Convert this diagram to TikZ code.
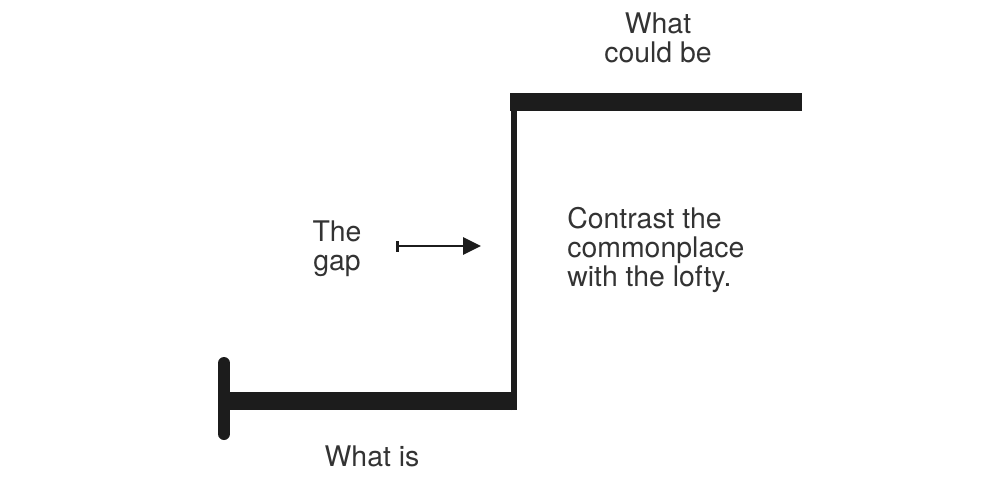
\documentclass[tikz,border=0pt]{standalone}
\usepackage{fontspec}
\setmainfont{TeX Gyre Heros}
\usepackage{tikz}
\usetikzlibrary{arrows.meta}

\definecolor{ink}{HTML}{1C1C1C}
\definecolor{txt}{HTML}{333333}

\tikzset{
  bar/.style={ink, line width=9pt},
  riser/.style={ink, line width=2.6pt},
  label/.style={txt, inner sep=0pt, font=\fontsize{14.2}{14.6}\selectfont},
}

\begin{document}
\begin{tikzpicture}[x=0.5pt,y=-0.5pt]
\useasboundingbox (0,0) rectangle (983,492);
\coordinate (isL) at (222,401);
\coordinate (isR) at (516,401);
\coordinate (riseB) at (514,410);
\coordinate (riseT) at (514,93);
\coordinate (beL) at (510,102);
\coordinate (beR) at (802,102);
\coordinate (capT) at (224,363);
\coordinate (capB) at (224,434);
\coordinate (gapL) at (396,246);
\coordinate (gapR) at (481,246);
\draw[bar] (isL) -- (isR);
\draw[bar] (beL) -- (beR);
\draw[riser] (riseB) -- (riseT);
\draw[ink, line width=6pt, line cap=round] (capT) -- (capB);
\draw[ink, line width=1.4pt, {Bar[width=5.5pt]}-{Triangle[length=9pt,width=8.5pt]}] (gapL) -- (gapR);
\node[label, align=center] (top) at (658,38) {What\\could be};
\node[label, align=center] (gap) at (337,249) {The\\gap};
\node[label, align=left, anchor=west] (contrast) at (567,250) {Contrast the\\commonplace\\with the lofty.};
\node[label] (bottom) at (372,456) {What is};
\end{tikzpicture}
\end{document}
